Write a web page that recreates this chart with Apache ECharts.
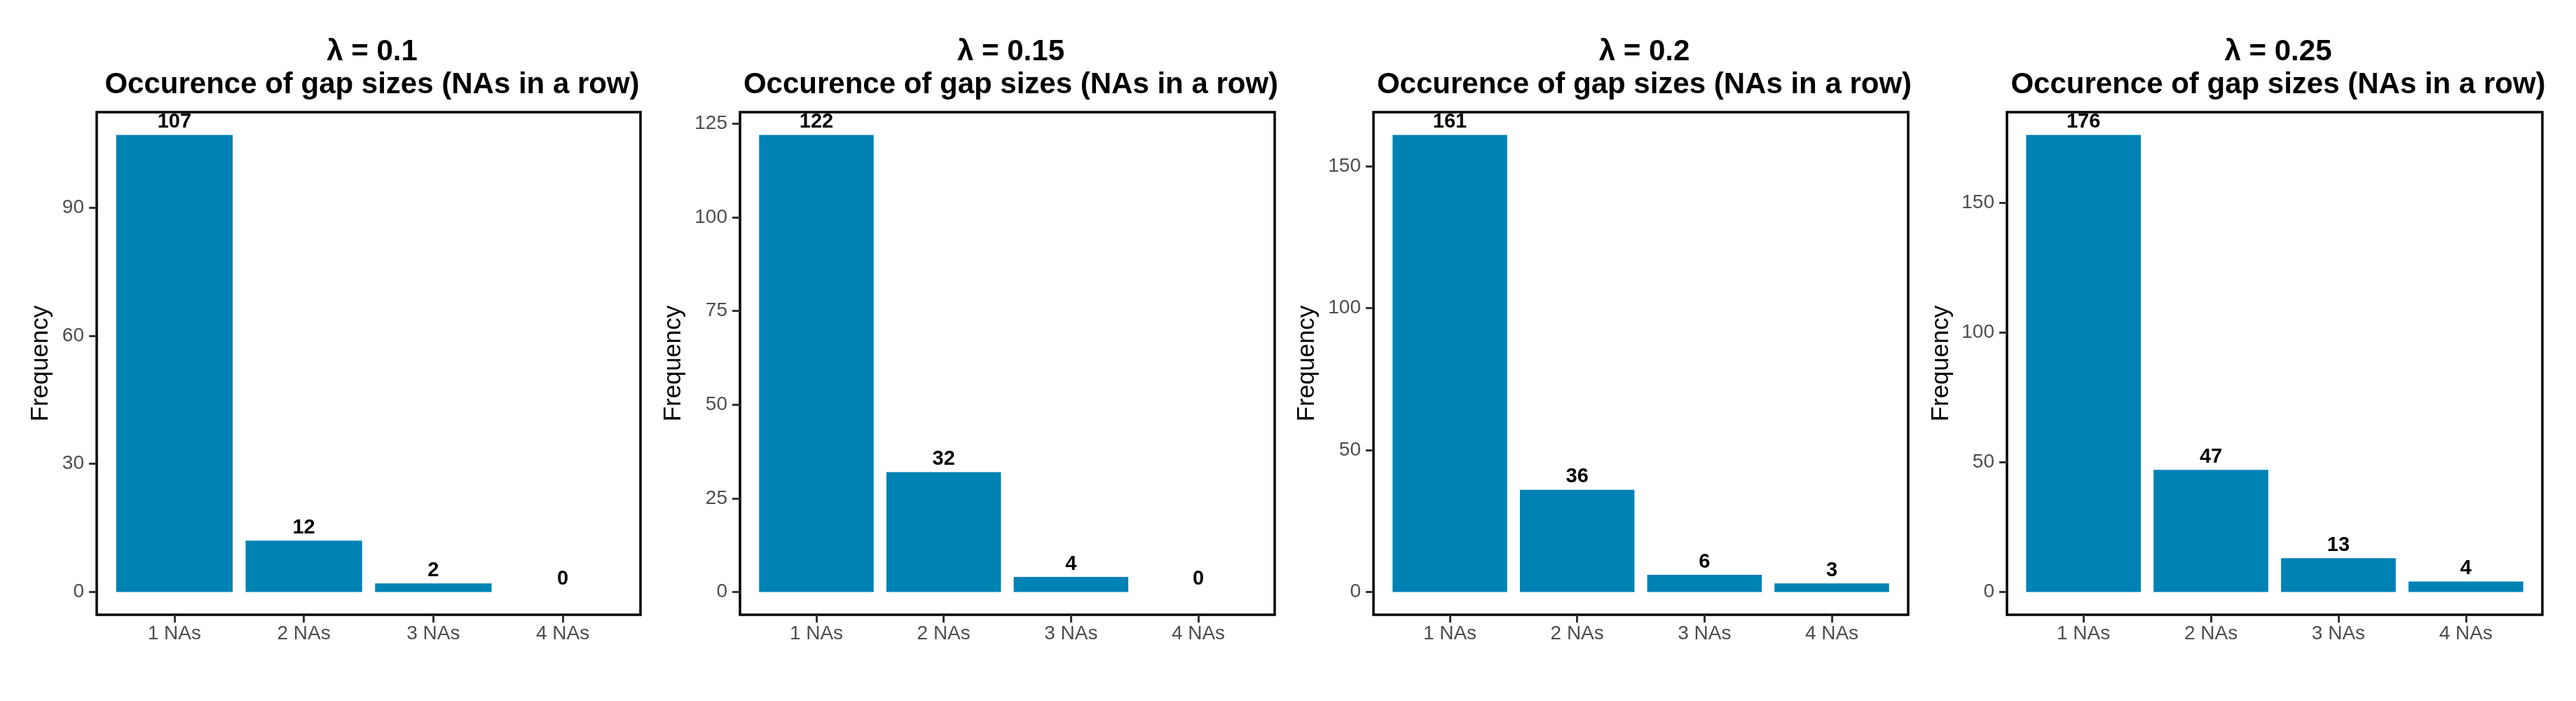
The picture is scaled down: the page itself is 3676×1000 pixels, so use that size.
<!DOCTYPE html>
<html>
<head>
<meta charset="utf-8">
<script src="https://cdn.jsdelivr.net/npm/echarts@6/dist/echarts.min.js"></script>
<style>
  html, body { margin: 0; padding: 0; background: #fff; }
  #chart { width: 3676px; height: 1000px; }
</style>
</head>
<body>
<div id="chart"></div>
<script>
// ---- data ----
const categories = ['1 NAs', '2 NAs', '3 NAs', '4 NAs'];
const lambdas = ['0.1', '0.15', '0.2', '0.25'];
const freqL010 = [107, 12, 2, 0];
const freqL015 = [122, 32, 4, 0];
const freqL020 = [161, 36, 6, 3];
const freqL025 = [176, 47, 13, 4];
const ticksL010 = [0, 30, 60, 90];
const ticksL015 = [0, 25, 50, 75, 100, 125];
const ticksL020 = [0, 50, 100, 150];
const ticksL025 = [0, 50, 100, 150];
const subtitle = 'Occurence of gap sizes (NAs in a row)';
const yName = 'Frequency';

const seriesValues = [freqL010, freqL015, freqL020, freqL025];
const seriesTicks = [ticksL010, ticksL015, ticksL020, ticksL025];

// ---- layout (pixels) ----
const panels = [
  { left: 138, width: 776, nameGap: 62 },
  { left: 1056, width: 763, nameGap: 77 },
  { left: 1960, width: 763, nameGap: 77 },
  { left: 2864, width: 764, nameGap: 76 }
];
const gridTop = 160, gridBottom = 123;
const FONT = '"Liberation Sans", Arial, sans-serif';
const barColor = '#0082b4';
const tickColor = '#333333';

const catPositions = categories.map((c, i) => i + 1);

const option = {
  animation: false,
  backgroundColor: '#ffffff',
  title: [], grid: [], xAxis: [], yAxis: [], series: []
};

panels.forEach((p, k) => {
  const vals = seriesValues[k];
  const maxV = Math.max(...vals);
  option.title.push({
    text: 'λ = ' + lambdas[k] + '\n' + subtitle,
    left: p.left + p.width / 2,
    top: 46,
    textAlign: 'center',
    textStyle: { fontFamily: FONT, fontSize: 42, fontWeight: 'bold', color: '#000', lineHeight: 47 }
  });
  option.grid.push({
    left: p.left, width: p.width, top: gridTop, bottom: gridBottom,
    show: true, borderColor: '#000', borderWidth: 3.5, backgroundColor: '#fff',
    containLabel: false
  });
  option.xAxis.push({
    type: 'value', gridIndex: k, min: 0.4, max: 4.6, position: 'bottom',
    splitLine: { show: false },
    axisLine: { show: false, onZero: false },
    axisTick: { show: true, length: 11, lineStyle: { color: tickColor, width: 3 }, customValues: catPositions },
    axisLabel: {
      customValues: catPositions, margin: 13,
      fontFamily: FONT, fontSize: 28, color: '#4d4d4d', lineHeight: 28,
      formatter: (v) => categories[Math.round(v) - 1]
    }
  });
  option.yAxis.push({
    type: 'value', gridIndex: k, position: 'left',
    min: -0.05 * maxV, max: 1.05 * maxV,
    splitLine: { show: false },
    axisLine: { show: false, onZero: false },
    axisTick: { show: true, length: 11, lineStyle: { color: tickColor, width: 3 }, customValues: seriesTicks[k] },
    axisLabel: {
      customValues: seriesTicks[k], margin: 18,
      fontFamily: FONT, fontSize: 28, color: '#4d4d4d'
    },
    name: yName, nameLocation: 'middle', nameRotate: 90, nameGap: p.nameGap,
    nameTextStyle: { fontFamily: FONT, fontSize: 35, color: '#000' }
  });
  option.series.push({
    type: 'bar', xAxisIndex: k, yAxisIndex: k,
    barWidth: '90%',
    itemStyle: { color: barColor },
    label: {
      show: true, position: 'top', distance: 4,
      fontFamily: FONT, fontSize: 29, fontWeight: 'bold', color: '#000',
      formatter: (d) => String(d.value[1])
    },
    data: vals.map((v, i) => [catPositions[i], v])
  });
});

const chart = echarts.init(document.getElementById('chart'), null, { renderer: 'canvas' });
chart.setOption(option);
</script>
</body>
</html>
